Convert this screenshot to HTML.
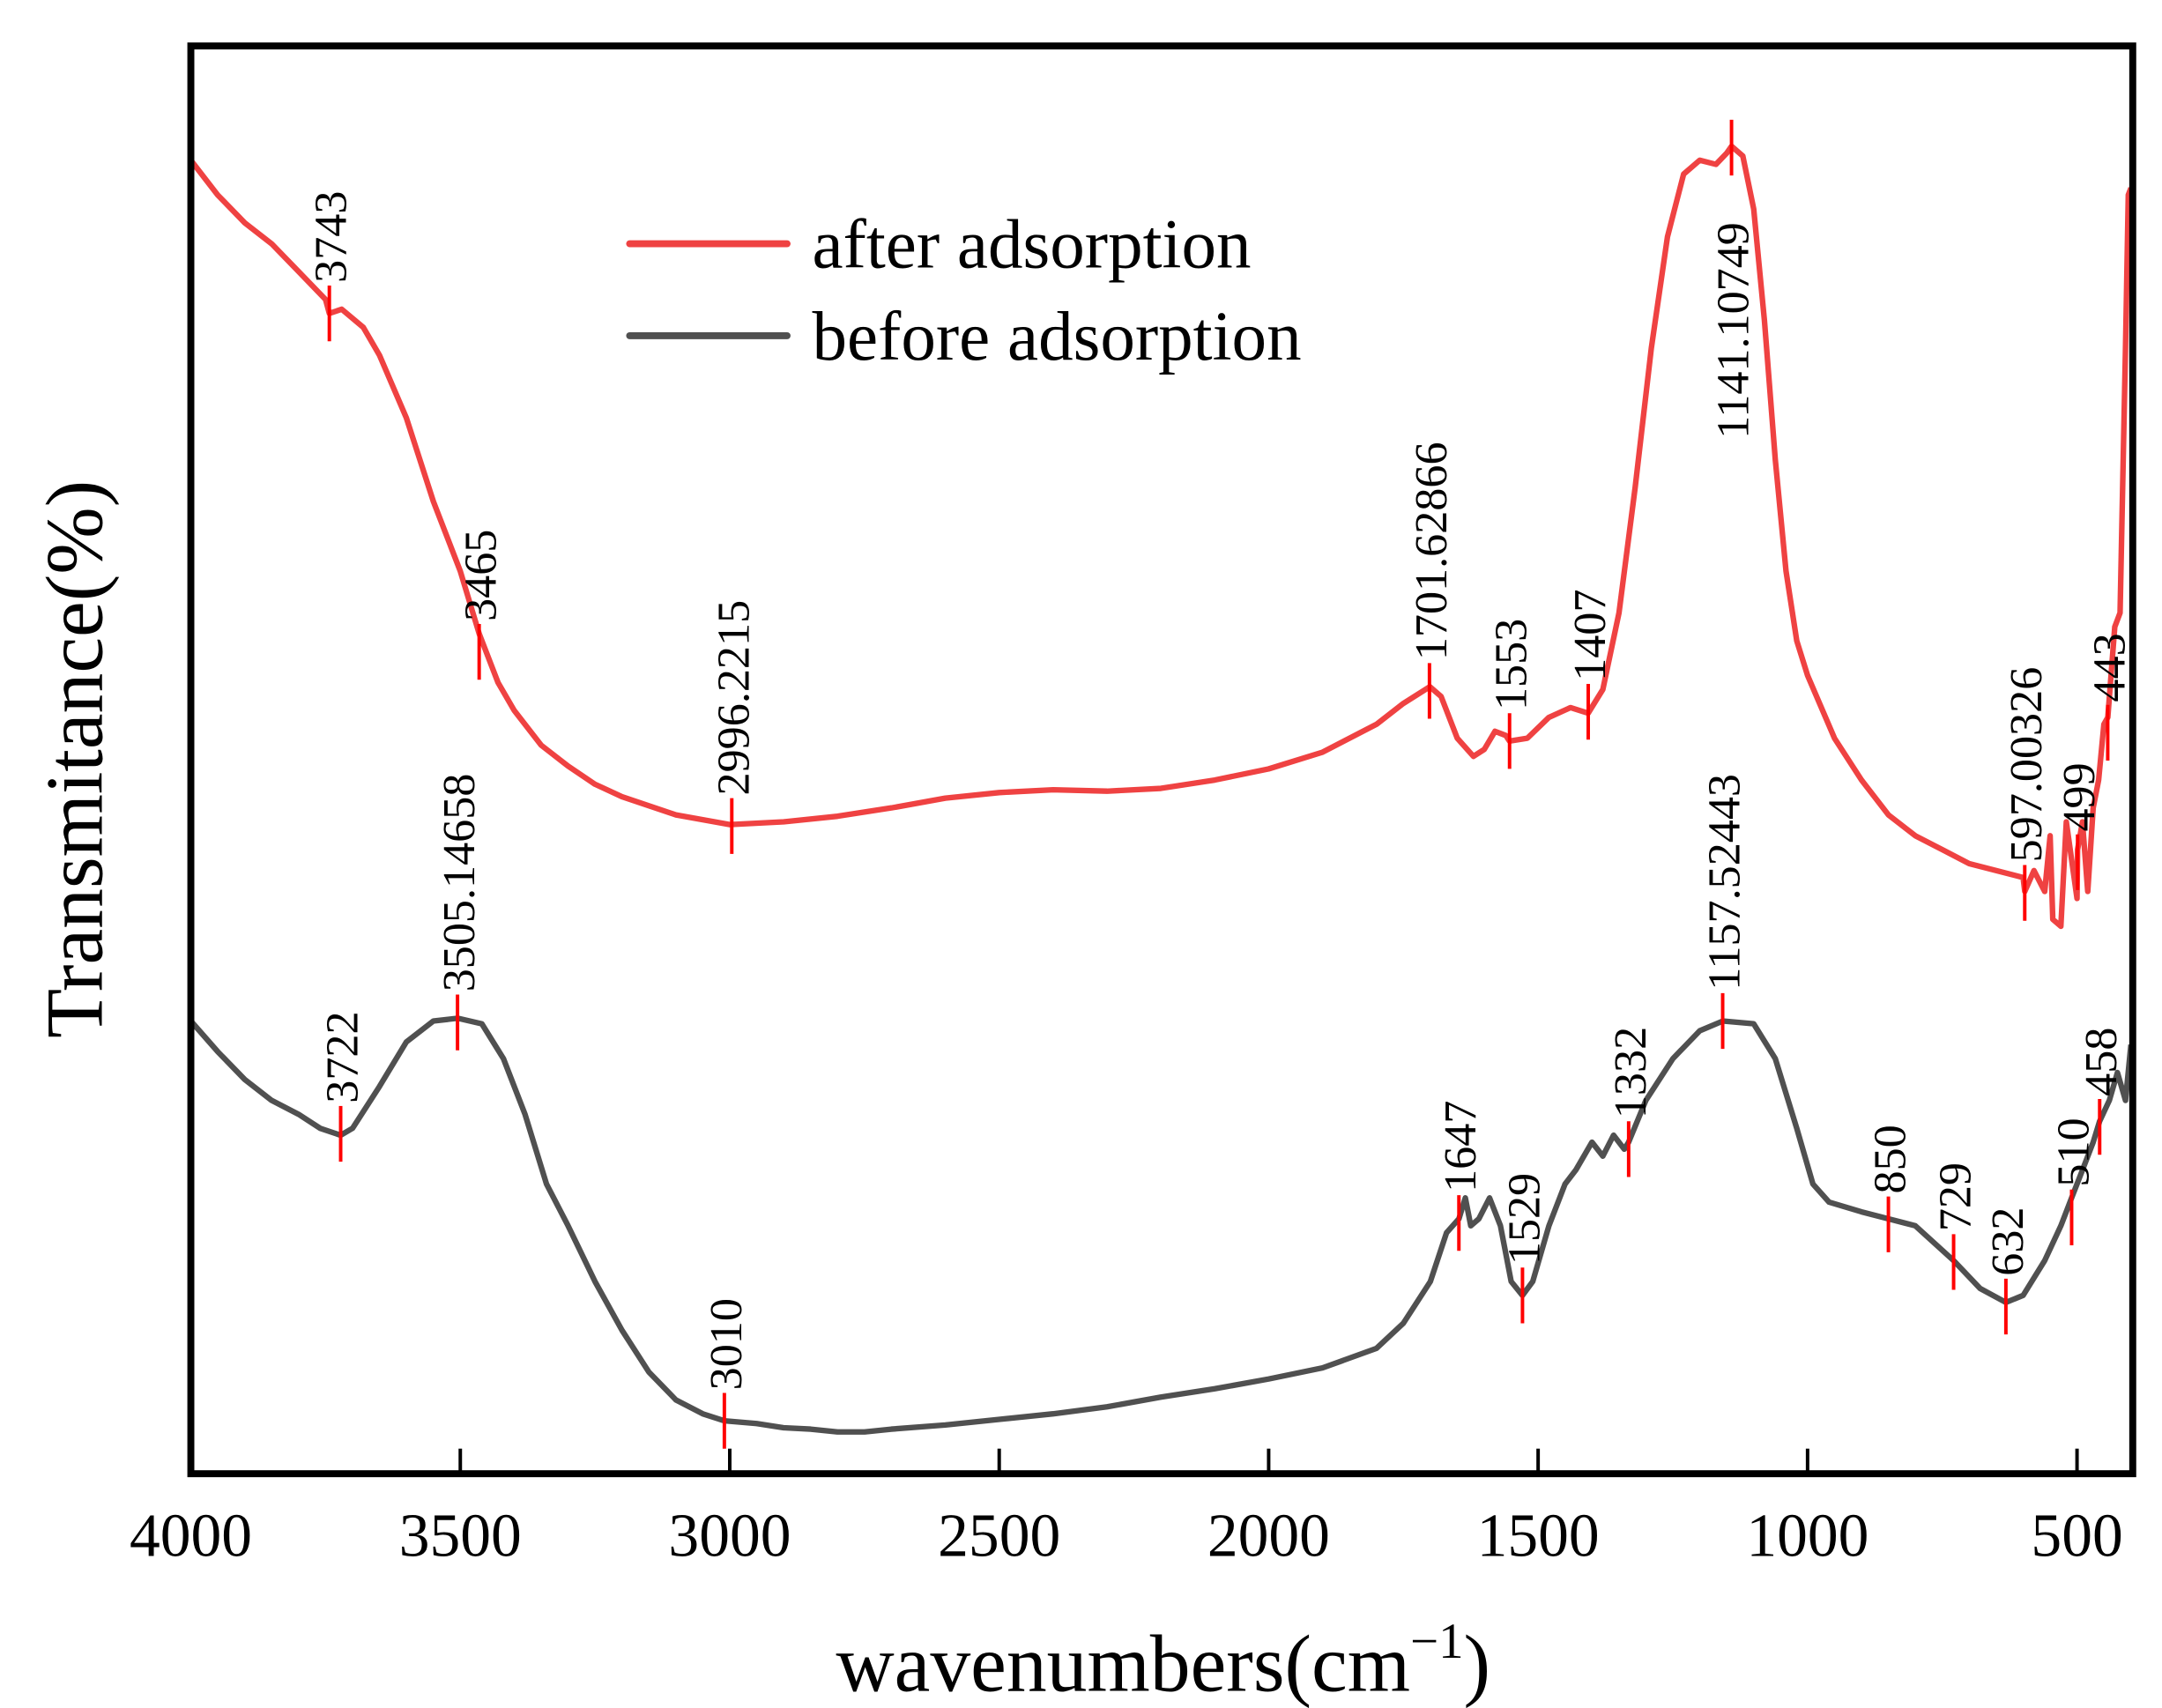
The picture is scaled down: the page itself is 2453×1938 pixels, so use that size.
<!DOCTYPE html>
<html><head><meta charset="utf-8"><style>
html,body{margin:0;padding:0;background:#fff}
svg{display:block}
text{font-family:"Liberation Serif",serif;fill:#000}
</style></head><body>
<svg id="chart" width="2453" height="1938" viewBox="0 0 1552 1226.2" preserveAspectRatio="none" xmlns="http://www.w3.org/2000/svg">
<g id="plot"></g>
<rect x="137" y="33" width="1394" height="1025" fill="none" stroke="#000" stroke-width="5"/>
<g id="xticks"></g>
<text x="835" y="1214" font-size="58" text-anchor="middle">wavenumbers(cm<tspan font-size="36" dy="-24">−1</tspan><tspan dy="24">)</tspan></text>
<text transform="translate(73,545) rotate(-90)" font-size="58" text-anchor="middle">Transmitance(%)</text>
<g>
<line x1="452" y1="175" x2="565" y2="175" stroke="#ef4242" stroke-width="5" stroke-linecap="round"/>
<text x="583" y="192" font-size="50">after adsorption</text>
<line x1="452" y1="241" x2="565" y2="241" stroke="#505050" stroke-width="5" stroke-linecap="round"/>
<text x="583" y="258" font-size="50">before adsorption</text>
</g>
</svg>
<script>
const xTicks=[4000,3500,3000,2500,2000,1500,1000,500];
const afterWn=[4000,3950,3900,3850,3800,3750,3743,3720,3680,3650,3600,3550,3500,3465,3430,3400,3350,3300,3250,3200,3100,3000,2900,2800,2700,2600,2500,2400,2300,2200,2100,2000,1900,1800,1750,1701,1680,1650,1620,1600,1580,1560,1553,1520,1480,1440,1407,1380,1350,1320,1290,1260,1230,1200,1170,1150,1141,1120,1100,1080,1060,1040,1020,1000,950,900,850,800,750,700,650,600,597,580,560,550,545,530,520,500,499,490,480,470,460,450,443,430,420,410,405,400];
const afterT=[94.3,91.8,89.8,88.3,86.3,84.3,83.3,83.6,82.3,80.3,75.8,69.8,64.8,60.3,56.8,54.8,52.3,50.8,49.5,48.6,47.3,46.6,46.8,47.2,47.8,48.5,48.9,49.1,49.0,49.2,49.8,50.6,51.8,53.8,55.3,56.5,55.8,52.8,51.5,52.0,53.3,53.0,52.6,52.8,54.3,55.0,54.6,56.3,61.8,70.8,80.8,88.8,93.3,94.3,94.0,94.8,95.3,94.6,90.8,82.8,72.8,64.8,59.8,57.3,52.8,49.8,47.3,45.8,44.8,43.8,43.3,42.8,41.8,43.3,41.8,45.8,39.8,39.3,46.8,41.3,44.8,46.8,41.8,47.8,49.8,53.8,54.3,60.8,61.8,80.8,91.8,92.3];
const beforeWn=[4000,3950,3900,3850,3800,3760,3722,3700,3650,3600,3550,3505,3460,3420,3380,3340,3300,3250,3200,3150,3100,3050,3010,2950,2900,2850,2800,2750,2700,2600,2500,2400,2300,2200,2100,2000,1900,1800,1750,1700,1670,1647,1635,1625,1610,1590,1570,1550,1529,1510,1480,1450,1430,1400,1380,1360,1340,1332,1300,1250,1200,1157,1100,1060,1020,990,960,900,850,800,729,680,632,600,560,530,510,490,470,458,440,425,410,400];
const beforeT=[32.5,30.3,28.3,26.8,25.8,24.8,24.3,24.8,27.8,31.0,32.5,32.7,32.3,29.8,25.8,20.8,17.8,13.8,10.3,7.3,5.3,4.3,3.8,3.6,3.3,3.2,3.0,3.0,3.2,3.5,3.9,4.3,4.8,5.5,6.1,6.8,7.6,9.0,10.8,13.8,17.3,18.3,19.8,17.8,18.3,19.8,17.8,13.8,12.8,13.8,17.8,20.8,21.8,23.8,22.8,24.3,23.3,23.8,26.8,29.8,31.8,32.5,32.3,29.8,24.8,20.8,19.5,18.8,18.3,17.8,15.3,13.3,12.3,12.8,15.3,17.8,19.8,21.8,23.8,25.3,26.8,28.8,26.8,30.8];
const afterPeakWn=[3743,3465,2996.2215,1701.62866,1553,1407,1141.10749,597.00326,499,443];
const afterPeakLabels=["3743","3465","2996.2215","1701.62866","1553","1407","1141.10749","597.00326","499","443"];
const afterPeakT=[83.3,59.0,46.5,56.2,52.6,54.7,95.2,41.7,43.9,53.2];
const afterPeakBelow=[false,false,false,false,false,false,true,false,false,false];
const beforePeakWn=[3722,3505.14658,3010,1647,1529,1332,1157.52443,850,729,632,510,458];
const beforePeakLabels=["3722","3505.14658","3010","1647","1529","1332","1157.52443","850","729","632","510","458"];
const beforePeakT=[24.4,32.4,3.8,18.0,12.8,23.3,32.5,17.9,15.2,12.0,18.4,24.9];

const NS="http://www.w3.org/2000/svg";
const X=w=>137+(4000-w)*(1491-137)/3500;
const Y=t=>1058-t*10;
function mk(tag,attrs,parent){const e=document.createElementNS(NS,tag);for(const k in attrs)e.setAttribute(k,attrs[k]);parent.appendChild(e);return e;}
const plot=document.getElementById('plot');
const xt=document.getElementById('xticks');
xTicks.forEach(v=>{
  const l=mk('line',{x1:X(v),x2:X(v),y1:1058,y2:1040,stroke:'#000','stroke-width':2.5},xt);
  
  
  const t=mk('text',{x:X(v),y:1117,'font-size':44,'text-anchor':'middle'},xt);
  t.textContent=v;
  
  
});
function series(wn,tv,color,name){
  const d=wn.map((w,i)=>(i?'L':'M')+X(w).toFixed(1)+' '+Y(tv[i]).toFixed(1)).join(' ');
  const p=mk('path',{d:d,fill:'none',stroke:color,'stroke-width':4,'stroke-linejoin':'round'},plot);
  
  
}
series(beforeWn,beforeT,'#505050','before-adsorption-line');
series(afterWn,afterT,'#ef4242','after-adsorption-line');
function peaks(wn,labels,tv,below,prefix){
  wn.forEach((w,i)=>{
    const x=X(w),yc=Y(tv[i]);
    const l=mk('line',{x1:x,x2:x,y1:yc-20,y2:yc+20,stroke:'#ff0000','stroke-width':2.5},plot);
    
    
    const ys=(below&&below[i])?yc+209:yc-22;
    const t=mk('text',{transform:'translate('+(x+12)+','+ys+') rotate(-90)','font-size':33},plot);
    t.textContent=labels[i];
    
    
  });
}
peaks(afterPeakWn,afterPeakLabels,afterPeakT,afterPeakBelow,'after');
peaks(beforePeakWn,beforePeakLabels,beforePeakT,null,'before');
</script>
</body></html>
